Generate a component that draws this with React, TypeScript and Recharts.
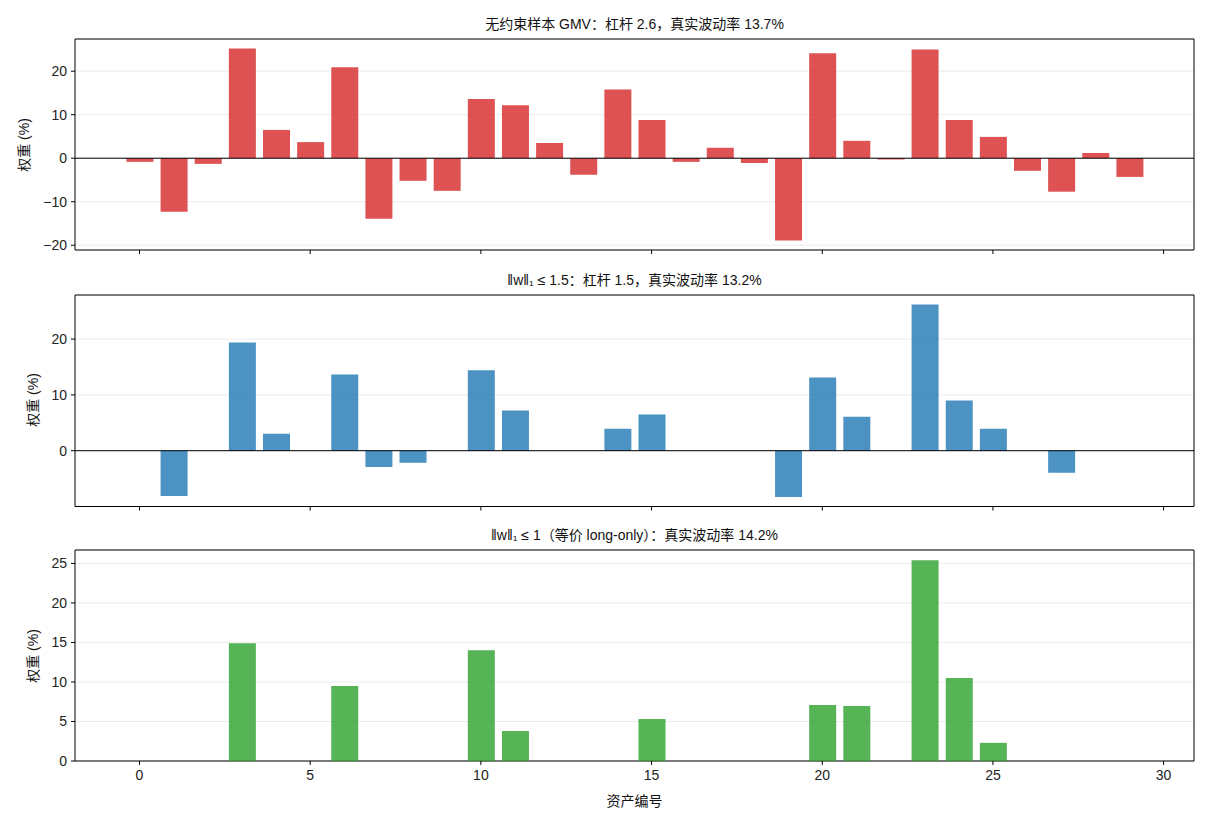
import React from "react";
import {
  BarChart,
  Bar,
  XAxis,
  YAxis,
  CartesianGrid,
  ReferenceLine,
  ReferenceArea,
} from "recharts";

// Asset indices 0..29
const assets: number[] = Array.from({ length: 30 }, (_, i) => i);

// Portfolio weights (%) per asset
const gmvWeights: number[] = [
  -0.84, -12.3, -1.3, 25.2, 6.5, 3.7, 20.9, -13.9, -5.2, -7.5,
  13.6, 12.2, 3.5, -3.8, 15.8, 8.8, -0.84, 2.4, -1.1, -18.9,
  24.1, 4.0, -0.3, 25.0, 8.8, 4.9, -2.9, -7.7, 1.2, -4.3,
];
const l1_15Weights: number[] = [
  0, -8.1, 0, 19.4, 3.05, 0, 13.65, -2.9, -2.15, 0,
  14.4, 7.2, 0, 0, 3.95, 6.5, 0, 0, 0, -8.3,
  13.1, 6.1, 0, 26.2, 9.0, 3.95, 0, -3.95, 0, 0,
];
const l1_1Weights: number[] = [
  0, 0, 0, 14.9, 0, 0, 9.5, 0, 0, 0,
  14.0, 3.8, 0, 0, 0, 5.3, 0, 0, 0, 0,
  7.1, 6.95, 0, 25.4, 10.5, 2.3, 0, 0, 0, 0,
];

const xTicks: number[] = [0, 5, 10, 15, 20, 25, 30];
const yTicksGmv: number[] = [-20, -10, 0, 10, 20];
const yTicksL15: number[] = [0, 10, 20];
const yTicksL1: number[] = [0, 5, 10, 15, 20, 25];

const titles: string[] = [
  "无约束样本 GMV：杠杆 2.6，真实波动率 13.7%",
  "‖w‖₁ ≤ 1.5：杠杆 1.5，真实波动率 13.2%",
  "‖w‖₁ ≤ 1（等价 long-only）：真实波动率 14.2%",
];
const yLabel = "权重 (%)";
const xLabel = "资产编号";

const FONT = "'Liberation Sans', 'DejaVu Sans', 'Noto Sans CJK SC', sans-serif";
const FS = 14;
const X_DOMAIN: [number, number] = [-1.89, 30.89];
const PLOT_LEFT = 75;
const PLOT_RIGHT = 1194;
const CHART_W = 1210;
const Y_AXIS_W = 50;

// Tick labels use a true minus sign
const fmtTick = (v: number) => (v < 0 ? `\u2212${Math.abs(v)}` : `${v}`);

type PanelProps = {
  values: number[];
  color: string;
  domain: [number, number];
  yTicks: number[];
  plotTop: number;
  plotHeight: number;
  title: string;
  titleY: number;
  labelX: number;
  showXLabels: boolean;
  zeroLine: boolean;
};

function Panel(p: PanelProps) {
  const data = assets.map((a, i) => ({ asset: a, w: p.values[i] }));
  const topPad = 10;
  const xAxisH = 30;
  const bottomPad = 4;
  const h = topPad + p.plotHeight + xAxisH + bottomPad;
  const tickStyle = { fontSize: FS, fill: "#222", fontFamily: FONT };
  return (
    <>
      <div
        style={{
          position: "absolute",
          left: PLOT_LEFT,
          width: PLOT_RIGHT - PLOT_LEFT,
          top: p.titleY - 10,
          height: 20,
          lineHeight: "20px",
          textAlign: "center",
          fontSize: FS,
          fontFamily: FONT,
          color: "#111",
          whiteSpace: "nowrap",
        }}
      >
        {p.title}
      </div>
      <div
        style={{
          position: "absolute",
          left: p.labelX - 40,
          top: p.plotTop + p.plotHeight / 2 - 10,
          width: 80,
          height: 20,
          lineHeight: "20px",
          textAlign: "center",
          transform: "rotate(-90deg)",
          fontSize: FS,
          fontFamily: FONT,
          color: "#111",
          whiteSpace: "nowrap",
        }}
      >
        {yLabel}
      </div>
      <div style={{ position: "absolute", left: 0, top: p.plotTop - topPad }}>
        <BarChart
          width={CHART_W}
          height={h}
          data={data}
          margin={{
            top: topPad,
            right: CHART_W - PLOT_RIGHT,
            bottom: bottomPad,
            left: PLOT_LEFT - Y_AXIS_W,
          }}
        >
          <CartesianGrid
            vertical={false}
            stroke="#b0b0b0"
            strokeOpacity={0.3}
            strokeWidth={0.8}
          />
          <XAxis
            dataKey="asset"
            type="number"
            domain={X_DOMAIN}
            ticks={xTicks}
            allowDataOverflow
            height={xAxisH}
            tickSize={4}
            tickMargin={5}
            axisLine={false}
            tickLine={{ stroke: "#000", strokeWidth: 1 }}
            tick={p.showXLabels ? tickStyle : () => <g />}
          />
          <YAxis
            type="number"
            domain={p.domain}
            ticks={p.yTicks}
            allowDataOverflow
            width={Y_AXIS_W}
            tickSize={4}
            tickMargin={4}
            axisLine={false}
            tickLine={{ stroke: "#000", strokeWidth: 1 }}
            tick={tickStyle}
            tickFormatter={fmtTick}
          />
          <Bar
            dataKey="w"
            fill={p.color}
            fillOpacity={0.8}
            barSize={27}
            isAnimationActive={false}
          />
          {p.zeroLine && (
            <ReferenceLine y={0} stroke="#000" strokeWidth={1} />
          )}
          <ReferenceArea
            x1={X_DOMAIN[0]}
            x2={X_DOMAIN[1]}
            y1={p.domain[0]}
            y2={p.domain[1]}
            fill="none"
            fillOpacity={0}
            stroke="#000"
            strokeWidth={1}
            ifOverflow="visible"
          />
        </BarChart>
      </div>
    </>
  );
}

export default function App() {
  return (
    <div
      style={{
        position: "absolute",
        left: 0,
        top: 0,
        width: 1210,
        height: 825,
        background: "#fff",
        fontFamily: FONT,
      }}
    >
      <Panel
        values={gmvWeights}
        color="#d62728"
        domain={[-21.1, 27.4]}
        yTicks={yTicksGmv}
        plotTop={39}
        plotHeight={211}
        title={titles[0]}
        titleY={24}
        labelX={24}
        showXLabels={false}
        zeroLine
      />
      <Panel
        values={l1_15Weights}
        color="#1f77b4"
        domain={[-10.0, 27.9]}
        yTicks={yTicksL15}
        plotTop={294.5}
        plotHeight={211.5}
        title={titles[1]}
        titleY={280}
        labelX={33}
        showXLabels={false}
        zeroLine
      />
      <Panel
        values={l1_1Weights}
        color="#2ca02c"
        domain={[0, 26.7]}
        yTicks={yTicksL1}
        plotTop={550}
        plotHeight={211}
        title={titles[2]}
        titleY={535}
        labelX={33}
        showXLabels
        zeroLine={false}
      />
      <div
        style={{
          position: "absolute",
          left: PLOT_LEFT,
          width: PLOT_RIGHT - PLOT_LEFT,
          top: 791,
          height: 20,
          lineHeight: "20px",
          textAlign: "center",
          fontSize: FS,
          fontFamily: FONT,
          color: "#111",
        }}
      >
        {xLabel}
      </div>
    </div>
  );
}
